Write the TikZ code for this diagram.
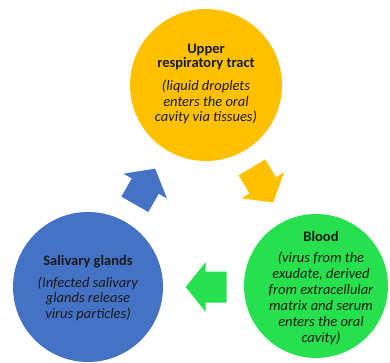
\documentclass[tikz,border=0pt]{standalone}
\usepackage{fontspec}
\setmainfont{Carlito}
\definecolor{cyellow}{HTML}{FFC000}
\definecolor{cgreen}{HTML}{26E04E}
\definecolor{cblue}{HTML}{4472C4}
\definecolor{ctext}{HTML}{1A1A1A}
\tikzset{
  blob/.style={circle, draw=none, minimum size=#1, inner sep=0pt},
  label/.style={align=center, font=\fontsize{14.5}{15.5}\selectfont, text=ctext, inner sep=0pt},
  blockarrow/.pic={
    \fill (-20.5,-15.5) -- (0.5,-15.5) -- (0.5,-25) -- (20.5,0) -- (0.5,25) -- (0.5,15.5) -- (-20.5,15.5) -- cycle;
  }
}
\begin{document}
\begin{tikzpicture}[x=1pt,y=1pt]
\useasboundingbox (0,0) rectangle (390,362);
% circles
\node[blob=152pt, fill=cyellow] (upper) at (206,277) {};
\node[blob=144pt, fill=cgreen] (blood) at (316,76) {};
\node[blob=150pt, fill=cblue] (saliv) at (88,75) {};
% texts
\node[label] (uppertxt) at ([yshift=1pt]upper.center) {\textbf{Upper}\\[-1.5pt]\textbf{respiratory tract}\\[8pt]\textit{(liquid droplets}\\\textit{enters the oral}\\\textit{cavity via tissues)}};
\node[label] (bloodtxt) at (321,74) {\textbf{Blood}\\[5pt]\textit{(virus from the}\\[0.5pt]\textit{exudate, derived}\\[0.5pt]\textit{from extracellular}\\[0.5pt]\textit{matrix and serum}\\[0.5pt]\textit{enters the oral}\\[0.5pt]\textit{cavity)}};
\node[label] (salivtxt) at ([yshift=-1pt]saliv.center) {\textbf{Salivary glands}\\[6pt]\textit{(Infected salivary}\\\textit{glands release}\\\textit{virus particles)}};
% block arrows
\pic[fill=cyellow, rotate=-58.8] at (262.5,177.1) {blockarrow};
\pic[fill=cgreen, rotate=180] at (206.2,75) {blockarrow};
\pic[fill=cblue, rotate=60.3] at (145,175.5) {blockarrow};
\end{tikzpicture}
\end{document}
